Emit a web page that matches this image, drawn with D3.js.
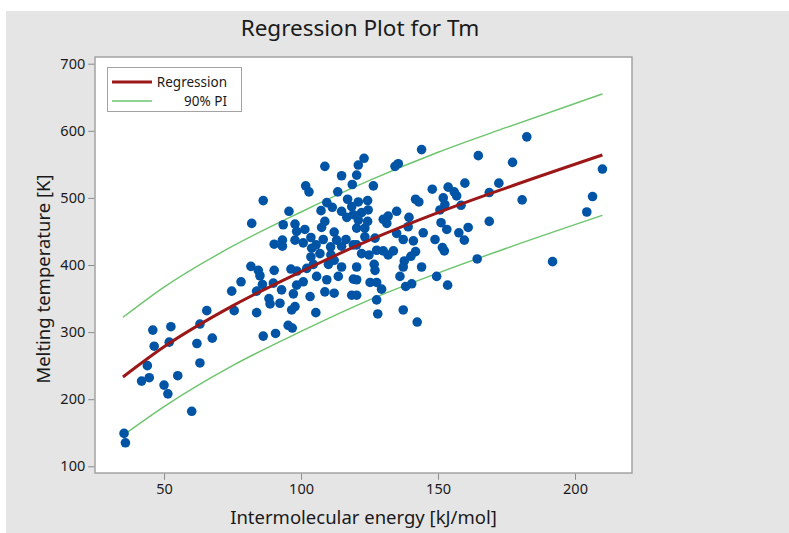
<!DOCTYPE html>
<html><head><meta charset="utf-8">
<script src="https://cdn.jsdelivr.net/npm/d3@7"></script>
<style>
body{margin:0;background:#fff;}
svg{display:block;}
text{font-family:"Noto Sans","Open Sans",sans-serif;fill:#1a1a1a;}
</style>
</head><body><svg id="c" width="789" height="533"></svg>
<script>
// Scatter data: intermolecular energy [kJ/mol] and melting temperature [K]
const energy = [
35.4,35.9,45.9,52.5,46.4,51.9,43.9,41.8,44.6,50.0,51.4,55.0,60.1,63.1,65.6,62.0,67.6,63.1,74.7,78.1,75.6,
108.7,114.8,101.7,102.9,118.7,113.4,86.2,117.0,109.4,111.4,107.3,95.6,114.8,118.5,116.7,119.1,82.0,93.5,97.8,108.7,107.5,101.4,98.4,112.1,97.8,103.6,108.1,113.0,116.4,93.2,90.2,93.2,100.8,105.5,103.9,110.8,114.8,119.1,106.9,110.9,103.6,112.1,110.0,104.5,114.8,81.7,84.4,90.2,96.3,98.5,102.1,85.0,105.7,109.4,113.6,119.1,85.9,89.9,98.4,100.8,83.8,92.9,97.2,103.3,108.7,112.1,118.5,88.3,88.7,92.3,97.8,96.6,83.8,105.4,86.2,90.7,95.3,96.8,
144.0,123.0,120.9,134.3,135.5,120.3,126.4,147.9,153.7,155.9,159.8,141.8,143.0,151.9,156.8,158.4,120.9,124.3,152.5,150.7,124.5,122.1,134.9,131.8,130.0,139.4,131.3,124.3,120.9,151.1,139.1,120.3,123.3,153.2,134.9,144.6,157.6,161.0,123.3,127.0,137.3,141.0,148.9,159.6,120.3,151.6,152.3,122.1,124.8,127.6,130.0,131.8,133.7,141.8,140.1,137.7,126.7,120.3,137.3,144.0,127.0,136.1,149.5,125.2,127.6,129.4,138.2,140.4,153.5,120.3,120.3,127.6,128.0,137.3,142.4,
182.4,164.7,177.2,210.0,172.2,168.7,206.4,180.7,204.3,168.7,164.3,191.8
];
const meltTemp = [
149,135,303,308,279,285,250,227,232,221,208,235,182,312,332,283,291,254,361,375,332,
547,533,518,509,520,509,496,498,493,486,481,480,480,487,471,475,462,460,461,465,456,453,450,449,437,441,438,437,438,437,431,428,433,430,425,427,428,430,417,415,412,407,401,401,397,398,392,392,394,391,395,384,383,378,383,379,371,373,370,375,361,363,357,353,360,358,355,350,342,343,338,333,329,329,294,298,310,306,
572,559,549,547,551,534,518,513,516,509,522,498,494,500,503,489,494,496,490,482,482,478,480,473,468,471,462,465,467,463,457,455,455,453,447,448,448,456,442,440,438,436,438,437,430,426,421,417,415,422,421,415,421,420,413,406,401,397,397,397,392,383,383,374,374,364,368,372,370,378,355,348,327,333,315,
591,563,553,543,522,508,502,497,479,465,409,405
];
// Regression fit and 90% prediction interval, read at these energies
const fitX    = [35, 50, 75, 100, 125, 150, 175, 210];
const fitY    = [233, 278, 339, 390, 437, 478, 515, 564];
const piUpper = [322, 367, 428, 479, 526, 568, 605, 655];
const piLower = [146, 189, 250, 301, 348, 388, 425, 474];

const xTicks = [50, 100, 150, 200];
const yTicks = [100, 200, 300, 400, 500, 600, 700];
const legendLabels = ["Regression", "90% PI"];

const svg = d3.select("#c");
const L = 95, R = 632, T = 57, B = 473;

svg.append("rect").attr("x",6).attr("y",11).attr("width",783).attr("height",522).attr("fill","#e5e5e5");

const x = d3.scaleLinear().domain([24.8, 220.8]).range([L, R]);
const y = d3.scaleLinear().domain([90, 710]).range([B, T]);

svg.append("rect").attr("x",L).attr("y",T).attr("width",R-L).attr("height",B-T)
  .attr("fill","#fff").attr("stroke","#a3a3a3").attr("stroke-width",1.5);

// axes
const gx = svg.append("g").attr("transform",`translate(0,${B+0.75})`)
  .call(d3.axisBottom(x).tickValues(xTicks).tickSize(6).tickPadding(4).tickFormat(d3.format("d")));
const gy = svg.append("g").attr("transform",`translate(${L-0.75},0)`)
  .call(d3.axisLeft(y).tickValues(yTicks).tickSize(6).tickPadding(3).tickFormat(d3.format("d")));
[gx, gy].forEach(g => {
  g.select(".domain").remove();
  g.selectAll(".tick line").attr("stroke","#8a8a8a");
  g.selectAll(".tick text").style("font-family","'Noto Sans',sans-serif").style("font-size","14.5px").attr("fill","#111");
});

// lines
const fitData = fitX.map((d,i)=>({x:d, fit:fitY[i], up:piUpper[i], lo:piLower[i]}));
const lineOf = key => d3.line().x(d=>x(d.x)).y(d=>y(d[key])).curve(d3.curveMonotoneX);

svg.append("path").datum(fitData).attr("d", lineOf("up")).attr("fill","none").attr("stroke","#6cc46c").attr("stroke-width",1.4);
svg.append("path").datum(fitData).attr("d", lineOf("lo")).attr("fill","none").attr("stroke","#6cc46c").attr("stroke-width",1.4);

// points
svg.append("g").selectAll("circle").data(energy.map((e,i)=>[e, meltTemp[i]])).join("circle")
  .attr("cx", d=>x(d[0])).attr("cy", d=>y(d[1])).attr("r",4.8).attr("fill","#0054a6");

svg.append("path").datum(fitData).attr("d", lineOf("fit")).attr("fill","none").attr("stroke","#9c1717").attr("stroke-width",3);

// legend
const lg = svg.append("g");
lg.append("rect").attr("x",107.5).attr("y",67.5).attr("width",134).attr("height",44)
  .attr("fill","#fff").attr("stroke","#a3a3a3").attr("stroke-width",1);
lg.append("line").attr("x1",112).attr("x2",152).attr("y1",82).attr("y2",82).attr("stroke","#9c1717").attr("stroke-width",3);
lg.append("line").attr("x1",112).attr("x2",152).attr("y1",101).attr("y2",101).attr("stroke","#6cc46c").attr("stroke-width",1.4);
lg.append("text").attr("x",227).attr("y",86.5).attr("text-anchor","end").style("font-size","13.5px").text(legendLabels[0]);
lg.append("text").attr("x",227).attr("y",105.5).attr("text-anchor","end").style("font-size","13.5px").text(legendLabels[1]);

// titles
svg.append("text").attr("x",360).attr("y",36).attr("text-anchor","middle").style("font-size","22.5px").text("Regression Plot for Tm");
svg.append("text").attr("x",(L+R)/2).attr("y",524).attr("text-anchor","middle").style("font-size","18.5px").text("Intermolecular energy [kJ/mol]");
svg.append("text").attr("transform",`translate(50,${(T+B)/2+14}) rotate(-90)`).attr("text-anchor","middle").style("font-size","18.5px").text("Melting temperature [K]");
</script>
</body></html>
